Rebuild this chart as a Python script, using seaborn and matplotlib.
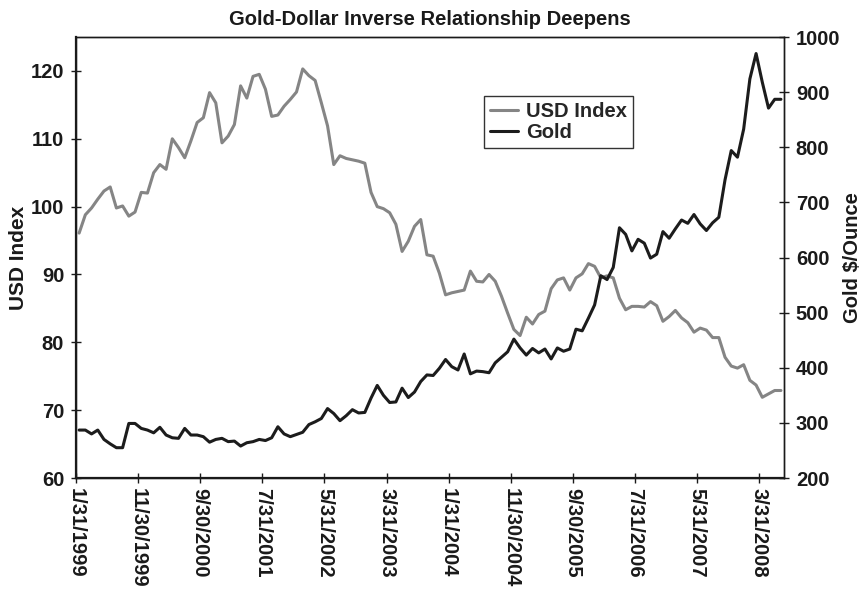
import pandas as pd
import matplotlib
matplotlib.use('Agg')
import matplotlib.pyplot as plt
import seaborn as sns

# Month-end observations, Jan 1999 - Jun 2008
dates = pd.date_range('1999-01-31', periods=114, freq='ME')

usd_index = [
    96.1, 98.8, 99.8, 101.1, 102.3, 102.9, 99.8, 100.1, 98.6, 99.2,
    102.1, 102.0, 105.0, 106.2, 105.5, 110.0, 108.7, 107.2, 109.7, 112.4,
    113.1, 116.8, 115.3, 109.4, 110.4, 112.1, 117.8, 116.0, 119.2, 119.5,
    117.3, 113.3, 113.5, 114.8, 115.8, 116.9, 120.3, 119.3, 118.6, 115.3,
    111.9, 106.2, 107.5, 107.1, 106.9, 106.7, 106.4, 102.1, 100.0, 99.7,
    99.1, 97.4, 93.4, 94.9, 97.1, 98.1, 92.9, 92.7, 90.2, 87.0,
    87.3, 87.5, 87.7, 90.5, 89.0, 88.9, 90.0, 89.0, 86.8, 84.3,
    81.9, 81.0, 83.7, 82.7, 84.1, 84.6, 87.9, 89.2, 89.5, 87.7,
    89.5, 90.1, 91.6, 91.2, 89.5, 89.8, 89.5, 86.5, 84.8, 85.3,
    85.3, 85.2, 86.0, 85.4, 83.1, 83.8, 84.7, 83.6, 82.9, 81.5,
    82.1, 81.8, 80.7, 80.7, 77.8, 76.5, 76.2, 76.7, 74.4, 73.7,
    71.9, 72.4, 72.9, 72.9,
]

gold_price = [
    287, 287, 280, 287, 270, 262, 255, 255, 299, 299,
    290, 287, 282, 292, 278, 273, 272, 290, 278, 278,
    275, 265, 270, 272, 266, 267, 258, 264, 266, 270,
    268, 273, 293, 280, 275, 279, 283, 297, 302, 308,
    326, 317, 304, 313, 324, 318, 319, 345, 368, 350,
    337, 338, 363, 346, 356, 375, 387, 386, 399, 415,
    402, 396, 425, 389, 394, 393, 391, 409, 419, 429,
    452, 436, 423, 435, 427, 434, 416, 436, 430, 434,
    470, 467, 490, 514, 567, 560, 582, 654, 642, 612,
    633, 626, 599, 606, 647, 635, 652, 668, 662, 678,
    661, 649, 663, 673, 741, 794, 782, 833, 924, 970,
    918, 871, 887, 887,
]

df = pd.DataFrame({
    'pos': range(len(dates)),
    'USD Index': usd_index,
    'Gold': gold_price,
})
tick_labels = [f'{d.month}/{d.day}/{d.year}' for d in dates[::10]]

sns.set_style('ticks')
plt.rcParams['font.family'] = ['Liberation Sans', 'DejaVu Sans']
plt.rcParams['font.weight'] = 'bold'
plt.rcParams['axes.labelweight'] = 'bold'
plt.rcParams['axes.titleweight'] = 'bold'

fig, ax = plt.subplots(figsize=(8.63, 5.95), dpi=100)
fig.subplots_adjust(left=0.0881, right=0.9085, top=0.9378, bottom=0.1966)

sns.lineplot(data=df, x='pos', y='USD Index', ax=ax, color='#858585',
             linewidth=2.2, label='USD Index', legend=False)
ax2 = ax.twinx()
sns.lineplot(data=df, x='pos', y='Gold', ax=ax2, color='#1c1c1c',
             linewidth=2.2, label='Gold', legend=False)

ax.set_xlim(-0.5, len(dates) - 0.5)
ax.set_ylim(60, 125)
ax.set_yticks(range(60, 121, 10))
ax2.set_ylim(200, 1000)
ax2.set_yticks(range(200, 1001, 100))
ax.set_xticks(df['pos'][::10] - 0.5)
ax.set_xticklabels(tick_labels, rotation=-90, ha='center', va='top')

for a in (ax, ax2):
    a.tick_params(direction='inout', length=7, width=1.0, labelsize=14.5,
                  colors='#1a1a1a')
    for s in a.spines.values():
        s.set_color('#1a1a1a')
        s.set_linewidth(1.0)
ax.spines['left'].set_linewidth(1.6)
ax.spines['bottom'].set_linewidth(1.6)
ax.tick_params(axis='x', pad=4)
ax.tick_params(axis='y', pad=5)
ax2.tick_params(axis='y', pad=5)

ax.set_xlabel('')
ax.set_ylabel('USD Index', fontsize=15, labelpad=2, color='#1a1a1a')
ax2.set_ylabel('Gold $/Ounce', fontsize=14.5, labelpad=2, color='#1a1a1a')
ax.set_title('Gold-Dollar Inverse Relationship Deepens', fontsize=14.5,
             pad=9, color='#1a1a1a')

handles = ax.get_lines() + ax2.get_lines()
leg = ax2.legend(handles, ['USD Index', 'Gold'], loc='upper left',
                 bbox_to_anchor=(0.576, 0.866), borderaxespad=0,
                 fontsize=14.5, frameon=True, fancybox=False,
                 handlelength=1.4, handletextpad=0.4, labelspacing=0.1,
                 borderpad=0.3)
leg.get_frame().set_edgecolor('#333333')
leg.get_frame().set_linewidth(1.0)
leg.get_frame().set_alpha(1)

fig.savefig('out.png', dpi=100)
